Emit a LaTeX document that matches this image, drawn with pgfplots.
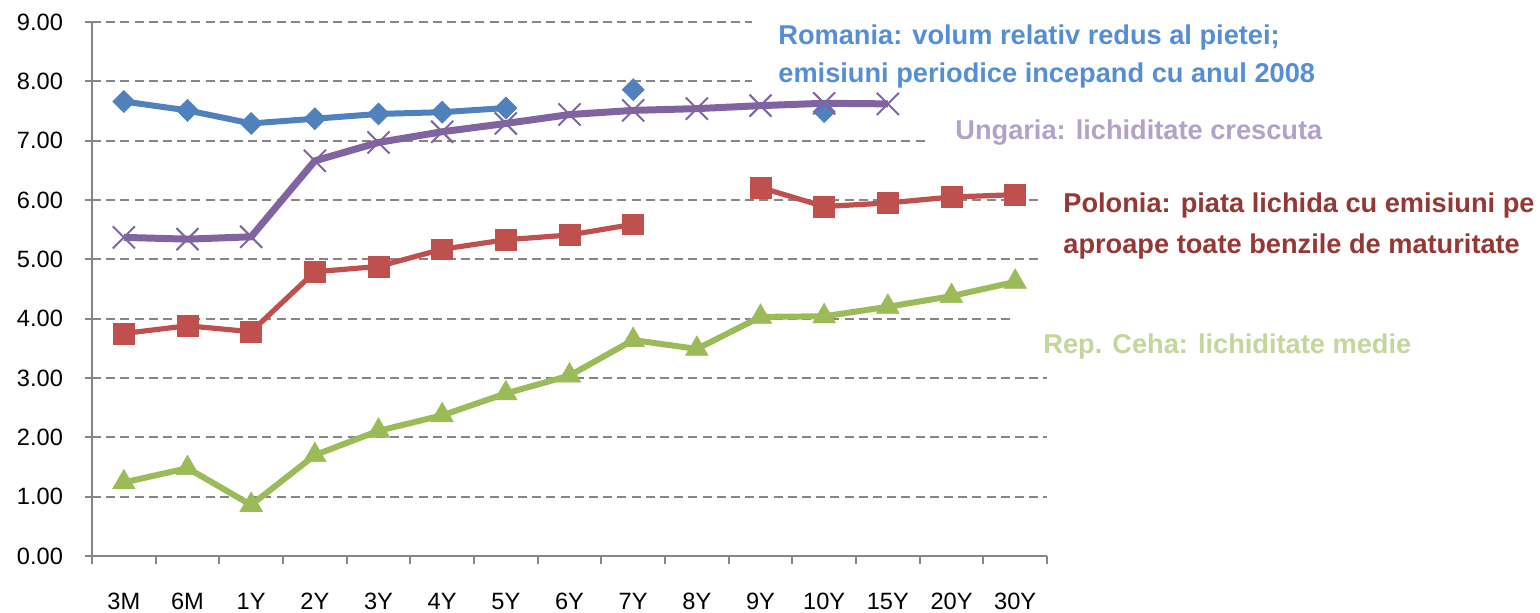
\documentclass[border=0pt]{standalone}
\usepackage{fontspec}
\setmainfont{Liberation Sans}
\usepackage{pgfplots}
\pgfplotsset{compat=1.18}
\definecolor{cblue}{HTML}{4F81BD}
\definecolor{cred}{HTML}{C0504D}
\definecolor{cgreen}{HTML}{9BBB59}
\definecolor{cpurple}{HTML}{8064A2}
\definecolor{axgray}{HTML}{868686}
\definecolor{tblue}{HTML}{558ED5}
\definecolor{tpurple}{HTML}{B3A2C7}
\definecolor{tred}{HTML}{953735}
\definecolor{tgreen}{HTML}{C3D69B}
\begin{document}
\begin{tikzpicture}
\useasboundingbox (0,0) rectangle (770pt,306.5pt);
\begin{axis}[
  at={(46pt,28.5pt)}, anchor=south west,
  scale only axis, width=477.5pt, height=267pt,
  xmin=-0.5, xmax=14.5, ymin=0, ymax=9,
  axis x line*=bottom, axis y line*=left,
  axis line style={draw=axgray, line width=1.3pt},
  xtick={0,...,14},
  xticklabels={3M,6M,1Y,2Y,3Y,4Y,5Y,6Y,7Y,8Y,9Y,10Y,15Y,20Y,30Y},
  minor xtick={-0.5,0.5,...,14.5},
  major x tick style={draw=none},
  ytick={0,1,...,9},
  tick align=outside, major tick length=3.5pt, minor tick length=4pt,
  tick style={draw=axgray, line width=1pt},
  ymajorgrids,
  major grid style={draw=axgray, line width=0.85pt, dash pattern=on 4.5pt off 2.6pt},
  /pgf/number format/assume math mode=true,
  ticklabel style={font=\fontsize{11.8}{14}\selectfont, text=black},
  yticklabel style={xshift=-7.5pt, /pgf/number format/.cd, fixed, fixed zerofill, precision=2},
  xticklabel style={yshift=-11.6pt},
  unbounded coords=jump,
  clip=false,
]
% Rep. Ceha
\addplot[cgreen, line width=3pt, mark=triangle*, mark size=6.5pt,
  mark options={fill=cgreen, draw=cgreen, line width=0.3pt}]
  coordinates {(0,1.24)(1,1.48)(2,0.86)(3,1.70)(4,2.11)(5,2.37)(6,2.74)(7,3.04)(8,3.64)(9,3.49)(10,4.03)(11,4.04)(12,4.20)(13,4.38)(14,4.62)};
% Polonia
\addplot[cred, line width=2.6pt, mark=square*, mark size=5.2pt,
  mark options={fill=cred, draw=cred, line width=0.3pt}]
  coordinates {(0,3.75)(1,3.88)(2,3.78)(3,4.79)(4,4.88)(5,5.17)(6,5.33)(7,5.41)(8,5.59)(9,nan)(10,6.21)(11,5.89)(12,5.95)(13,6.05)(14,6.09)};
% Romania
\addplot[cblue, line width=3pt, mark=square*, mark size=3.9pt,
  mark options={fill=cblue, draw=cblue, line width=0.3pt, rotate=45}]
  coordinates {(0,7.66)(1,7.51)(2,7.29)(3,7.37)(4,7.45)(5,7.48)(6,7.55)(7,nan)(8,7.86)(9,nan)(10,nan)(11,7.49)};
% Ungaria
\addplot[cpurple, line width=3.5pt, mark=x, mark size=7.8pt,
  mark options={draw=cpurple, line width=1pt}]
  coordinates {(0,5.37)(1,5.34)(2,5.38)(3,6.66)(4,6.97)(5,7.15)(6,7.29)(7,7.44)(8,7.51)(9,7.54)(10,7.59)(11,7.63)(12,7.62)};
\end{axis}
% white boxes that interrupt the gridlines behind the notes
\fill[white] (376pt,260.5pt) rectangle (770pt,299pt);
\fill[white] (464.5pt,232.5pt) rectangle (770pt,250.5pt);
\fill[white] (520pt,174pt) rectangle (770pt,214pt);
\fill[white] (506.5pt,124pt) rectangle (770pt,156.5pt);
\begin{scope}[every node/.style={anchor=base west, inner sep=0pt, font=\fontsize{13.6}{16}\selectfont\bfseries}]
\node[text=tblue] at (389pt,284pt) {Romania: volum relativ redus al pietei;};
\node[text=tblue] at (389pt,265pt) {emisiuni periodice incepand cu anul 2008};
\node[text=tpurple] at (477.5pt,236.5pt) {Ungaria: lichiditate crescuta};
\node[text=tred] at (531.5pt,200pt) {Polonia: piata lichida cu emisiuni pe};
\node[text=tred] at (531.5pt,179.5pt) {aproape toate benzile de maturitate};
\node[text=tgreen] at (521.5pt,129.5pt) {Rep. Ceha: lichiditate medie};
\end{scope}
\end{tikzpicture}
\end{document}
